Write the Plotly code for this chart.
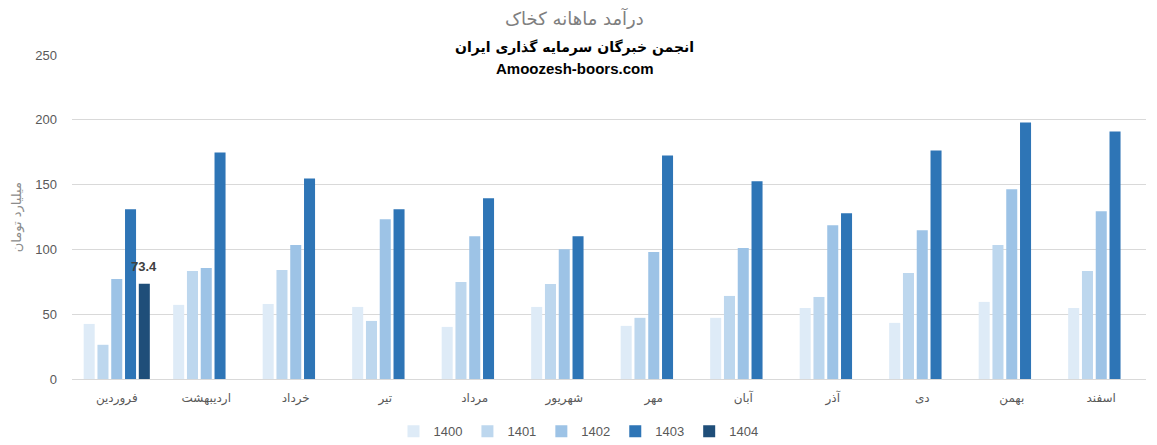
import plotly.graph_objects as go

months = ["فروردین", "اردیبهشت", "خرداد", "تیر", "مرداد", "شهریور",
          "مهر", "آبان", "آذر", "دی", "بهمن", "اسفند"]
years = ["1400", "1401", "1402", "1403", "1404"]

v1400 = [42.5, 57.2, 57.9, 55.6, 40.2, 55.6, 41.0, 47.2, 54.8, 43.3, 59.5, 54.8]
v1401 = [26.4, 83.3, 84.1, 44.8, 74.8, 73.3, 47.2, 64.1, 63.3, 81.8, 103.3, 83.3]
v1402 = [77.2, 85.6, 103.3, 123.3, 110.2, 100.2, 98.0, 101.0, 118.7, 114.8, 146.4, 129.5]
v1403 = [131.0, 174.8, 154.8, 131.0, 139.5, 110.2, 172.5, 152.5, 127.9, 176.4, 197.9, 191.0]
v1404 = [73.4, None, None, None, None, None, None, None, None, None, None, None]

series = [v1400, v1401, v1402, v1403, v1404]
colors = ["#DEEBF7", "#BDD7EE", "#9DC3E6", "#2E75B6", "#1F4E79"]

fig = go.Figure()
for name, vals, col in zip(years, series, colors):
    fig.add_trace(go.Bar(
        x=months, y=vals, name=name, marker=dict(color=col, line=dict(width=0)),
        cliponaxis=False, offsetgroup=name,
    ))

font_fam = "Liberation Sans, DejaVu Sans, Arial, sans-serif"

# data label for the 1404 bar (5th bar in the first group)
label_ann = dict(text=f"<b>{v1404[0]}</b>", x=months[0], y=v1404[0], xref="x", yref="y",
                 xshift=27, yshift=17, yanchor="middle", xanchor="center", showarrow=False,
                 font=dict(size=13, color="#404040", family="Liberation Sans, Arial"))

fig.update_layout(
    width=1157, height=445,
    margin=dict(l=72, r=11, t=55, b=66, autoexpand=False),
    paper_bgcolor="white", plot_bgcolor="white",
    barmode="group", bargap=0.23, bargroupgap=0.2,
    font=dict(family=font_fam, color="#595959", size=13),
    showlegend=True,
    legend=dict(orientation="h", x=0.5, xref="container", xanchor="center",
                y=0.031, yref="container", yanchor="middle",
                font=dict(size=13, color="#595959"), itemwidth=30,
                traceorder="normal"),
    xaxis=dict(showgrid=False, showline=False, ticks="", automargin=False,
               ticklabelstandoff=10,
               tickfont=dict(size=12, color="#595959", family="DejaVu Sans, sans-serif")),
    yaxis=dict(range=[0, 250], dtick=50, showgrid=True, gridcolor="#D9D9D9", gridwidth=1,
               zeroline=True, zerolinecolor="#D9D9D9", zerolinewidth=1, automargin=False,
               showline=False, ticks="", tickfont=dict(size=13, color="#595959"),
               ticklabelstandoff=14),
    annotations=[
        dict(text="درآمد ماهانه کخاک", xref="paper", yref="paper", x=0.468, y=1.114,
             xanchor="center", yanchor="middle", showarrow=False,
             font=dict(size=18, color="#7F7F7F", family="DejaVu Sans, sans-serif")),
        dict(text="<b>انجمن خبرگان سرمایه گذاری ایران</b>", xref="paper", yref="paper",
             x=0.468, y=1.024, xanchor="center", yanchor="middle", showarrow=False,
             font=dict(size=14, color="black", family="DejaVu Sans, sans-serif")),
        dict(text="<b>Amoozesh-boors.com</b>", xref="paper", yref="paper",
             x=0.468, y=0.957, xanchor="center", yanchor="middle", showarrow=False,
             font=dict(size=15, color="black", family="Liberation Sans, Arial")),
        dict(text="میلیارد تومان", xref="paper", yref="paper", x=-0.051, y=0.5,
             xanchor="center", yanchor="middle", textangle=-90, showarrow=False,
             font=dict(size=13, color="#8C8C8C", family="DejaVu Sans, sans-serif")),
        label_ann,
    ],
)

fig.write_html("out.html", config={"displayModeBar": False},
               post_script="document.body.style.margin='0';")
